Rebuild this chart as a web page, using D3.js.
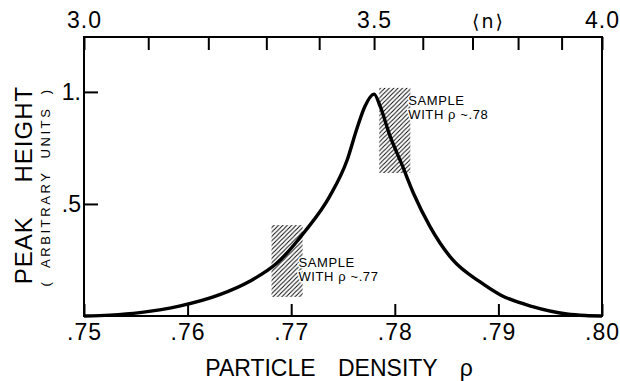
<!DOCTYPE html>
<html>
<head>
<meta charset="utf-8">
<script src="https://cdn.jsdelivr.net/npm/d3@7"></script>
<style>
  body { margin: 0; background: #fff; }
  svg { display: block; font-family: "Liberation Sans", Arial, sans-serif; }
  .axis path, .axis line { stroke: #000; stroke-width: 2; }
  .axis text { fill: #000; font-size: 23px; }
</style>
</head>
<body>
<div id="chart"></div>
<script>
// Peak height vs particle density
const rhoValues = [0.7500, 0.7525, 0.7554, 0.7593, 0.7631, 0.7660, 0.7686, 0.7713, 0.7737,
                   0.7754, 0.7763, 0.7771, 0.7780, 0.7786, 0.7795, 0.7807, 0.7818, 0.7834,
                   0.7856, 0.7882, 0.7902, 0.7933, 0.7966, 0.7984, 0.8000];
const peakValues = [0.000, 0.004, 0.015, 0.045, 0.095, 0.155, 0.235, 0.376, 0.533,
                    0.696, 0.830, 0.934, 0.990, 0.934, 0.808, 0.674, 0.548, 0.399,
                    0.250, 0.153, 0.094, 0.042, 0.009, 0.002, 0.000];

// bottom axis (rho) and left axis ticks
const rhoTicks = [0.75, 0.76, 0.77, 0.78, 0.79, 0.80];
const heightTicks = [0.5, 1.0];
const heightTickLabels = ['.5', '1.'];

// top axis: <n> ticks and the rho where each one sits
const nTicks = [3.0, 3.1, 3.2, 3.3, 3.4, 3.5, 3.6, 3.7, 3.8, 3.9, 4.0];
const nTickRho = [0.7500, 0.7562, 0.7620, 0.7676, 0.7727, 0.7780, 0.7827, 0.7875, 0.7919, 0.7961, 0.8000];
const nLabelled = [3.0, 3.5, 4.0];

// hatched sample boxes
const sampleNames = ['.77', '.78'];
const sampleRho = [[0.7681, 0.7711], [0.7785, 0.7815]];
const sampleHeight = [[0.085, 0.406], [0.638, 1.018]];
const sampleLabelAt = [[0.7707, 0.219], [0.7813, 0.942]];

const W = 620, H = 381;
const margin = {top: 37, right: 18, bottom: 65, left: 84};
const width = W - margin.left - margin.right;
const height = H - margin.top - margin.bottom;

const svg = d3.select('#chart').append('svg')
    .attr('width', W)
    .attr('height', H);

const defs = svg.append('defs');
defs.append('pattern')
    .attr('id', 'hatch')
    .attr('patternUnits', 'userSpaceOnUse')
    .attr('width', 4.4)
    .attr('height', 4.4)
    .append('path')
    .attr('d', 'M-1.1,1.1 l2.2,-2.2 M0,4.4 l4.4,-4.4 M3.3,5.5 l2.2,-2.2')
    .attr('stroke', '#000')
    .attr('stroke-width', 0.9);

const g = svg.append('g')
    .attr('transform', `translate(${margin.left},${margin.top})`);

const x = d3.scaleLinear().domain([0.75, 0.80]).range([0, width]);
const y = d3.scaleLinear().domain([0, 1.245]).range([height, 0]);
// <n> is not linear in rho, so map it piecewise through the tick positions
const xn = d3.scaleLinear().domain(nTicks).range(nTickRho.map(r => x(r)));

// Sample boxes
const samples = sampleNames.map((name, i) => ({
    name,
    rho: sampleRho[i],
    h: sampleHeight[i],
    at: sampleLabelAt[i]
}));

g.selectAll('.sample')
    .data(samples)
    .enter()
    .append('rect')
    .attr('class', 'sample')
    .attr('x', d => x(d.rho[0]))
    .attr('y', d => y(d.h[1]))
    .attr('width', d => x(d.rho[1]) - x(d.rho[0]))
    .attr('height', d => y(d.h[0]) - y(d.h[1]))
    .attr('fill', 'url(#hatch)');

// Curve
const line = d3.line()
    .x((d, i) => x(rhoValues[i]))
    .y(d => y(d))
    .curve(d3.curveMonotoneX);

g.append('path')
    .datum(peakValues)
    .attr('d', line)
    .attr('fill', 'none')
    .attr('stroke', '#000')
    .attr('stroke-width', 3.4)
    .attr('stroke-linejoin', 'round');

// Sample labels
const labels = g.selectAll('.sample-label')
    .data(samples)
    .enter()
    .append('text')
    .attr('class', 'sample-label')
    .attr('x', d => x(d.at[0]))
    .attr('y', d => y(d.at[1]))
    .style('font-size', '13px')
    .style('letter-spacing', '0.6px')
    .attr('fill', '#000')
    .attr('stroke', '#fff')
    .attr('stroke-width', 3)
    .attr('paint-order', 'stroke');
labels.append('tspan').text('SAMPLE');
labels.append('tspan')
    .attr('x', d => x(d.at[0]))
    .attr('dy', 14.5)
    .text(d => `WITH ρ ~${d.name}`);

// Bottom axis
const bottomAxis = g.append('g')
    .attr('class', 'axis')
    .attr('transform', `translate(0,${height})`)
    .call(d3.axisBottom(x)
        .tickValues(rhoTicks)
        .tickSize(-12)
        .tickPadding(0)
        .tickFormat(d => d3.format('.2f')(d).replace(/^0/, '')));
bottomAxis.select('.domain').remove();
bottomAxis.selectAll('text').attr('y', 24).attr('dy', 0).style('letter-spacing', '1px');

// Top axis
const topAxis = g.append('g')
    .attr('class', 'axis')
    .call(d3.axisTop(xn)
        .tickValues(nTicks)
        .tickSize(-13)
        .tickPadding(0)
        .tickFormat(d => nLabelled.includes(d) ? d3.format('.1f')(d) : ''));
topAxis.select('.domain').remove();
topAxis.selectAll('text').attr('y', -9).attr('dy', 0).style('letter-spacing', '1px');

// Left axis
const leftAxis = g.append('g')
    .attr('class', 'axis')
    .call(d3.axisLeft(y)
        .tickValues(heightTicks)
        .tickSize(-14)
        .tickPadding(0)
        .tickFormat((d, i) => heightTickLabels[i]));
leftAxis.select('.domain').remove();
leftAxis.selectAll('text')
    .attr('x', -3)
    .attr('dy', '0.32em');

// Frame
g.append('rect')
    .attr('x', 0)
    .attr('y', 0)
    .attr('width', width)
    .attr('height', height)
    .attr('fill', 'none')
    .attr('stroke', '#000')
    .attr('stroke-width', 2);

// <n> label on top axis
g.append('text')
    .attr('x', xn(3.735))
    .attr('y', -9)
    .attr('text-anchor', 'middle')
    .style('font-family', '"DejaVu Sans", sans-serif')
    .style('font-size', '19px')
    .style('letter-spacing', '2px')
    .text('⟨n⟩');

// Axis titles
svg.append('text')
    .attr('x', 339)
    .attr('y', 376)
    .attr('text-anchor', 'middle')
    .style('font-size', '23px')
    .style('word-spacing', '16px')
    .text('PARTICLE DENSITY ρ');

svg.append('text')
    .attr('transform', 'translate(32,185) rotate(-90)')
    .attr('text-anchor', 'middle')
    .style('font-size', '24px')
    .style('letter-spacing', '1px')
    .style('word-spacing', '26px')
    .text('PEAK HEIGHT');

svg.append('text')
    .attr('transform', 'translate(50,187) rotate(-90)')
    .attr('text-anchor', 'middle')
    .style('font-size', '13px')
    .style('letter-spacing', '2.6px')
    .style('word-spacing', '6px')
    .text('( ARBITRARY UNITS )');
</script>
</body>
</html>
